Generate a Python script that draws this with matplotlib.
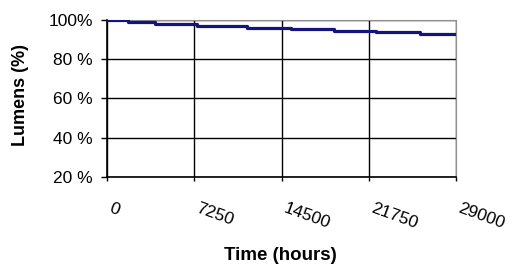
import matplotlib
matplotlib.use("Agg")
import matplotlib.pyplot as plt
import matplotlib.transforms as mtransforms

# Data
time_hours = [0, 900, 1750, 4000, 7480, 11600, 15300, 18870, 22360, 26000, 29000]
lumens_pct = [100, 100, 99.0, 97.8, 97.1, 95.8, 95.3, 94.4, 93.7, 93.0, 93.0]
x_ticks = [0, 7250, 14500, 21750, 29000]
x_tick_labels = ["0", "7250", "14500", "21750", "29000"]
y_ticks = [20, 40, 60, 80, 100]
y_tick_labels = ["20 %", "40 %", "60 %", "80 %", "100%"]

plt.rcParams['font.family'] = ['Liberation Sans', 'DejaVu Sans']

fig = plt.figure(figsize=(5.22, 2.68), dpi=100)
ax = fig.add_axes([107/522, 1 - 177/268, (456-107)/522, (177-20)/268])

ax.step(time_hours, lumens_pct, where='post', color='#141480', lw=2.3, zorder=3)

ax.set_xlim(0, 29000)
ax.set_ylim(20, 100)
ax.set_xticks(x_ticks)
ax.set_xticklabels(x_tick_labels, rotation=-20, ha='left', va='top',
                   rotation_mode='anchor', fontsize=12.5)
ax.set_yticks(y_ticks)
ax.set_yticklabels(y_tick_labels, fontsize=12.5)
ax.tick_params(axis='x', length=3, width=1, pad=14, color='black')
ax.tick_params(axis='y', length=4, width=1, pad=6, color='black')

offset = mtransforms.ScaledTranslation(5/100, 0, fig.dpi_scale_trans)
for lab in ax.get_xticklabels():
    lab.set_transform(lab.get_transform() + offset)

ax.grid(True, color='black', lw=1)
for s in ['top', 'right']:
    ax.spines[s].set_color('#909090')
for s in ['left', 'bottom']:
    ax.spines[s].set_color('black')
    ax.spines[s].set_linewidth(1.2)

fig.text(21/522, 1 - 95/268, "Lumens (%)", rotation=90, ha='center', va='center',
         fontsize=13, fontweight='bold')
fig.text(280/522, 1 - 255/268, "Time (hours)", ha='center', va='center',
         fontsize=13.5, fontweight='bold')

fig.savefig("out.png", dpi=100)
